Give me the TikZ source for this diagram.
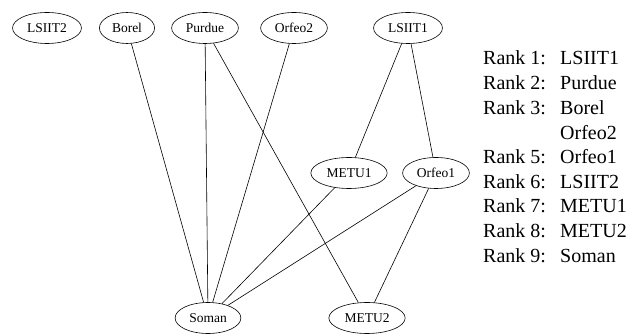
\documentclass[tikz,border=0pt]{standalone}
\usepackage{fontspec}
\setmainfont{Liberation Serif}
\usepackage{tikz}
\usetikzlibrary{shapes.geometric}

\begin{document}
\begin{tikzpicture}[x=1pt, y=-1pt,
    site/.style={ellipse, draw, line width=0.6pt, inner xsep=4.5pt, inner ysep=3pt,
                 minimum height=31pt, font=\fontsize{13.5}{16}\selectfont},
    link/.style={line width=0.6pt},
    rankline/.style={anchor=west, inner sep=0pt, font=\fontsize{20}{23}\selectfont}]
  \useasboundingbox (0,0) rectangle (643,336);
  % top row
  \node[site] (lsiit2) at (47,28) {LSIIT2};
  \node[site] (borel) at (127,28) {Borel};
  \node[site] (purdue) at (205,28) {Purdue};
  \node[site] (orfeo2) at (294,28) {Orfeo2};
  \node[site] (lsiit1) at (408,28) {LSIIT1};
  % middle row
  \node[site] (metu1) at (349,173) {METU1};
  \node[site] (orfeo1) at (436,173) {Orfeo1};
  % bottom row
  \node[site] (soman) at (208,318) {Soman};
  \node[site] (metu2) at (367,318) {METU2};
  % links
  \draw[link] (borel) -- (soman);
  \draw[link] (purdue) -- (soman);
  \draw[link] (purdue) -- (metu2);
  \draw[link] (orfeo2) -- (soman);
  \draw[link] (lsiit1) -- (metu1);
  \draw[link] (lsiit1) -- (orfeo1);
  \draw[link] (metu1) -- (soman);
  \draw[link] (orfeo1) -- (soman);
  \draw[link] (orfeo1) -- (metu2);
  % ranking
  \node[rankline] (r1) at (483,58) {Rank 1:};
  \node[rankline] (n1) at (560,58) {LSIIT1};
  \node[rankline] (r2) at (483,82.7) {Rank 2:};
  \node[rankline] (n2) at (560,82.7) {Purdue};
  \node[rankline] (r3) at (483,107.4) {Rank 3:};
  \node[rankline] (n3) at (560,107.4) {Borel};
  \node[rankline] (n4) at (560,132.1) {Orfeo2};
  \node[rankline] (r5) at (483,156.8) {Rank 5:};
  \node[rankline] (n5) at (560,156.8) {Orfeo1};
  \node[rankline] (r6) at (483,181.5) {Rank 6:};
  \node[rankline] (n6) at (560,181.5) {LSIIT2};
  \node[rankline] (r7) at (483,206.2) {Rank 7:};
  \node[rankline] (n7) at (560,206.2) {METU1};
  \node[rankline] (r8) at (483,230.9) {Rank 8:};
  \node[rankline] (n8) at (560,230.9) {METU2};
  \node[rankline] (r9) at (483,255.6) {Rank 9:};
  \node[rankline] (n9) at (560,255.6) {Soman};
\end{tikzpicture}
\end{document}
